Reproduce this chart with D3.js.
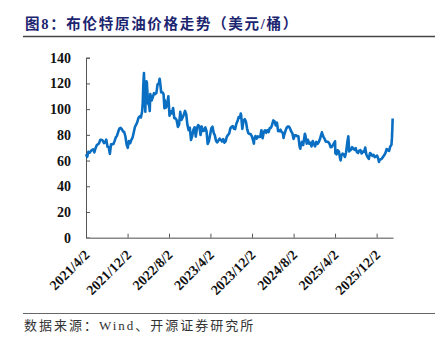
<!DOCTYPE html>
<html>
<head>
<meta charset="utf-8">
<script src="https://cdn.jsdelivr.net/npm/d3@7"></script>
<style>
  html, body { margin: 0; padding: 0; background: #fff; }
  svg { display: block; }
</style>
</head>
<body>
<svg id="chart" width="441" height="347"></svg>
<script>
// Brent crude, USD/bbl (weekly closes plus key turning points)
const dates = [
  "2021-04-02","2021-04-09","2021-04-16","2021-04-23","2021-04-30","2021-05-07","2021-05-14","2021-05-21","2021-05-28",
  "2021-06-04","2021-06-11","2021-06-18","2021-06-25","2021-07-02","2021-07-09","2021-07-16","2021-07-23","2021-07-30",
  "2021-08-06","2021-08-13","2021-08-20","2021-08-27","2021-09-03","2021-09-10","2021-09-17","2021-09-24","2021-10-01",
  "2021-10-08","2021-10-15","2021-10-22","2021-10-29","2021-11-05","2021-11-12","2021-11-19","2021-11-26","2021-12-03",
  "2021-12-10","2021-12-17","2021-12-24","2021-12-31",
  "2022-01-07","2022-01-14","2022-01-21","2022-01-28","2022-02-04","2022-02-11","2022-02-18","2022-02-25","2022-03-01",
  "2022-03-04","2022-03-08","2022-03-11","2022-03-16","2022-03-18","2022-03-23","2022-03-25","2022-04-01","2022-04-08",
  "2022-04-11","2022-04-14","2022-04-22","2022-04-29","2022-05-06","2022-05-13","2022-05-20","2022-05-27","2022-06-03",
  "2022-06-08","2022-06-10","2022-06-17","2022-06-24","2022-07-01","2022-07-06","2022-07-08","2022-07-15","2022-07-22",
  "2022-07-29","2022-08-05","2022-08-12","2022-08-19","2022-08-26","2022-09-02","2022-09-09","2022-09-16","2022-09-23",
  "2022-09-30","2022-10-07","2022-10-14","2022-10-21","2022-10-28","2022-11-04","2022-11-11","2022-11-18","2022-11-25",
  "2022-12-02","2022-12-09","2022-12-16","2022-12-23","2022-12-30",
  "2023-01-06","2023-01-13","2023-01-20","2023-01-27","2023-02-03","2023-02-10","2023-02-17","2023-02-24","2023-03-03",
  "2023-03-10","2023-03-17","2023-03-24","2023-03-31","2023-04-07","2023-04-14","2023-04-21","2023-04-28","2023-05-05",
  "2023-05-12","2023-05-19","2023-05-26","2023-06-02","2023-06-09","2023-06-16","2023-06-23","2023-06-30","2023-07-07",
  "2023-07-14","2023-07-21","2023-07-28","2023-08-04","2023-08-11","2023-08-18","2023-08-25","2023-09-01","2023-09-08",
  "2023-09-15","2023-09-22","2023-09-27","2023-09-29","2023-10-06","2023-10-13","2023-10-20","2023-10-27","2023-11-03",
  "2023-11-10","2023-11-17","2023-11-24","2023-12-01","2023-12-08","2023-12-13","2023-12-15","2023-12-22","2023-12-29",
  "2024-01-05","2024-01-12","2024-01-19","2024-01-26","2024-02-02","2024-02-09","2024-02-16","2024-02-23","2024-03-01",
  "2024-03-08","2024-03-15","2024-03-22","2024-03-28","2024-04-05","2024-04-12","2024-04-19","2024-04-26","2024-05-03",
  "2024-05-10","2024-05-17","2024-05-24","2024-05-31","2024-06-04","2024-06-07","2024-06-14","2024-06-21","2024-06-28",
  "2024-07-05","2024-07-12","2024-07-19","2024-07-26","2024-08-02","2024-08-09","2024-08-16","2024-08-23","2024-08-30",
  "2024-09-06","2024-09-10","2024-09-13","2024-09-20","2024-09-27","2024-10-04","2024-10-07","2024-10-11","2024-10-18",
  "2024-10-25","2024-11-01","2024-11-08","2024-11-15","2024-11-22","2024-11-29","2024-12-06","2024-12-13","2024-12-20",
  "2024-12-27",
  "2025-01-03","2025-01-10","2025-01-15","2025-01-17","2025-01-24","2025-01-31","2025-02-07","2025-02-14","2025-02-21",
  "2025-02-28","2025-03-07","2025-03-14","2025-03-21","2025-03-28","2025-04-02","2025-04-04","2025-04-09","2025-04-11",
  "2025-04-17","2025-04-25","2025-05-02","2025-05-05","2025-05-09","2025-05-16","2025-05-23","2025-05-30","2025-06-06",
  "2025-06-13","2025-06-19","2025-06-24","2025-06-27","2025-07-04","2025-07-11","2025-07-18","2025-07-25","2025-08-01",
  "2025-08-08","2025-08-15","2025-08-22","2025-08-29","2025-09-05","2025-09-12","2025-09-19","2025-09-26","2025-10-03",
  "2025-10-10","2025-10-17","2025-10-24","2025-10-31","2025-11-07","2025-11-14","2025-11-21","2025-11-28","2025-12-05",
  "2025-12-12","2025-12-16","2025-12-19","2025-12-26",
  "2026-01-02","2026-01-09","2026-01-16","2026-01-23","2026-01-30","2026-02-06","2026-02-13","2026-02-20","2026-02-27",
  "2026-03-02","2026-03-04","2026-03-06"
];
const brent = [
  64.9,62.9,66.8,66.1,67.3,68.3,68.7,66.4,69.6,
  71.9,72.7,73.5,76.2,76.2,75.6,73.6,74.1,76.3,
  70.7,70.6,65.2,72.7,72.6,72.9,75.3,78.1,79.3,
  82.4,84.9,85.5,84.4,82.7,82.2,78.9,72.7,69.9,
  75.2,73.5,76.1,77.8,
  81.8,86.1,87.9,90.0,93.3,94.4,93.5,97.9,105.0,
  118.1,128.0,112.7,98.0,107.9,121.6,120.7,104.4,102.8,
  98.5,111.7,106.7,109.3,112.4,111.6,112.6,119.4,119.7,
  123.6,122.0,113.1,113.1,111.6,100.7,107.0,101.2,103.2,
  110.0,94.9,98.2,96.7,100.9,93.0,92.8,91.4,86.2,
  87.9,97.9,91.6,93.5,95.8,98.6,96.0,87.6,83.6,
  85.6,76.1,79.0,83.9,85.9,
  78.6,85.3,87.6,86.7,79.9,86.4,83.0,83.2,85.8,
  82.8,73.0,75.0,79.8,85.1,86.3,81.7,79.5,75.3,
  74.2,75.6,77.0,76.1,74.8,76.6,73.9,74.9,78.5,
  79.9,81.1,85.0,86.2,86.8,84.8,84.5,88.6,90.7,
  93.9,93.3,96.6,95.3,84.6,90.9,92.2,90.5,84.9,
  81.4,80.6,80.6,78.9,75.8,73.2,76.6,79.1,77.0,
  78.8,78.3,78.6,83.6,77.3,82.2,83.5,81.6,83.6,
  82.1,85.3,85.4,87.5,91.2,90.5,87.3,89.5,83.0,
  82.8,84.0,82.1,81.6,77.5,79.6,82.6,85.2,86.4,
  86.5,85.0,82.6,81.1,76.8,79.7,79.7,79.0,78.8,
  71.1,69.2,71.6,74.5,72.0,78.1,80.9,79.0,73.1,
  76.1,73.1,73.9,71.0,75.2,72.9,71.1,74.5,72.9,
  74.2,
  76.5,79.8,82.0,80.8,78.5,76.8,74.7,74.7,74.4,
  73.2,70.4,70.6,72.2,73.6,75.0,65.6,65.5,64.8,
  68.0,66.9,61.3,60.2,63.9,65.4,64.8,62.8,66.5,
  74.2,78.9,67.1,67.8,68.3,70.4,69.3,68.4,69.7,
  66.6,65.9,67.7,68.1,65.5,67.0,66.7,70.1,64.5,
  62.7,61.3,65.9,65.1,63.6,64.4,62.6,63.2,63.8,
  61.1,58.9,60.5,61.0,
  61.5,63.0,64.2,65.9,69.0,68.0,67.5,71.0,72.3,
  78.0,84.5,92.7
];

const tickDates = ["2021-04-02","2021-12-02","2022-08-02","2023-04-02","2023-12-02","2024-08-02","2025-04-02","2025-12-02"];
const tickLabels = ["2021/4/2","2021/12/2","2022/8/2","2023/4/2","2023/12/2","2024/8/2","2025/4/2","2025/12/2"];
const yTicks = [0, 20, 40, 60, 80, 100, 120, 140];

const title = "图8：布伦特原油价格走势（美元/桶）";
const source = "数据来源：Wind、开源证券研究所";

const parse = d3.utcParse("%Y-%m-%d");
const series = dates.map((d, i) => ({ date: parse(d), value: brent[i] }));

const svg = d3.select("#chart");
const serif = "'Liberation Serif', 'Times New Roman', 'Noto Sans CJK SC', serif";
const cjk = "'Liberation Serif', 'Noto Sans CJK SC', serif";

// Header
svg.append("text")
  .attr("x", 25).attr("y", 29)
  .attr("font-family", cjk)
  .attr("font-weight", "bold")
  .attr("font-size", 14.5)
  .attr("letter-spacing", 1.7)
  .attr("fill", "#1c2570")
  .text(title);
svg.append("line")
  .attr("x1", 23).attr("x2", 435).attr("y1", 36.5).attr("y2", 36.5)
  .attr("stroke", "#444").attr("stroke-width", 1.4);

// Footer
svg.append("line")
  .attr("x1", 23).attr("x2", 435).attr("y1", 313.5).attr("y2", 313.5)
  .attr("stroke", "#666").attr("stroke-width", 1.2);
svg.append("text")
  .attr("x", 24).attr("y", 330)
  .attr("font-family", cjk)
  .attr("font-size", 13)
  .attr("letter-spacing", 2)
  .attr("fill", "#333")
  .text(source);

// Scales
const x = d3.scaleUtc()
  .domain([parse("2021-04-02"), parse("2026-03-08")])
  .range([86, 393]);
const y = d3.scaleLinear().domain([0, 140]).range([237.7, 57.7]);

// Y axis
const yAxis = svg.append("g")
  .attr("transform", "translate(86,0)")
  .call(d3.axisRight(y).tickValues(yTicks).tickSize(4).tickFormat(d3.format("d")));
yAxis.select(".domain").attr("stroke", "#555").attr("stroke-width", 1);
yAxis.selectAll(".tick line").attr("stroke", "#555");
yAxis.selectAll(".tick text")
  .attr("x", -15).attr("text-anchor", "end")
  .attr("font-family", serif).attr("font-weight", "bold")
  .attr("font-size", 14).attr("fill", "#111");

// X axis
const xAxis = svg.append("g")
  .attr("transform", `translate(0,${y(0)})`)
  .call(d3.axisTop(x)
    .tickValues(tickDates.map(parse))
    .tickSize(4)
    .tickSizeOuter(0)
    .tickFormat((d, i) => tickLabels[i]));
xAxis.select(".domain").attr("stroke", "#888").attr("stroke-width", 1.6);
xAxis.selectAll(".tick line").attr("stroke", "#555");
xAxis.selectAll(".tick text")
  .attr("y", 0).attr("dy", 0)
  .attr("text-anchor", "end")
  .attr("transform", "translate(4,18) rotate(-45)")
  .attr("font-family", serif).attr("font-weight", "bold")
  .attr("font-size", 14).attr("fill", "#111");
svg.selectAll(".tick text").attr("font-family", serif);

// Price line
const line = d3.line()
  .x(d => x(d.date))
  .y(d => y(d.value));
svg.append("path")
  .datum(series)
  .attr("fill", "none")
  .attr("stroke", "#0a6fc2")
  .attr("stroke-width", 2.6)
  .attr("stroke-linejoin", "round")
  .attr("d", line);
</script>
</body>
</html>
